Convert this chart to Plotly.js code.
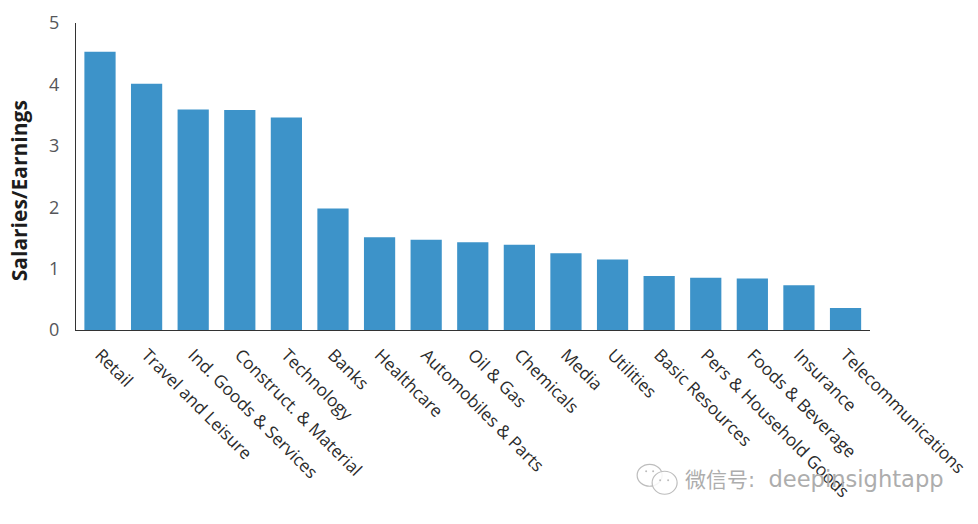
<!DOCTYPE html>
<html>
<head>
<meta charset="utf-8">
<script src="https://cdn.plot.ly/plotly-3.0.1.min.js"></script>
<style>
  html, body { margin: 0; padding: 0; background: #fff; }
  #chart { width: 978px; height: 524px; }
</style>
</head>
<body>
<div id="chart"></div>
<script>
const sectors = [
  'Retail', 'Travel and Leisure', 'Ind. Goods & Services', 'Construct. & Material',
  'Technology', 'Banks', 'Healthcare', 'Automobiles & Parts', 'Oil & Gas', 'Chemicals',
  'Media', 'Utilities', 'Basic Resources', 'Pers & Household Goods', 'Foods & Beverage',
  'Insurance', 'Telecommunications'
];
const ratios = [4.53, 4.01, 3.59, 3.585, 3.46, 1.98, 1.51, 1.47, 1.43, 1.39, 1.25, 1.15, 0.88, 0.85, 0.84, 0.73, 0.36];
const yTicks = [0, 1, 2, 3, 4, 5];
const yLabel = '<b>Salaries/Earnings</b>';
const watermarkCn = '微信号:';
const watermarkEn = 'deepinsightapp';

const W = 978, H = 524;
const M = { l: 75.5, r: 108, t: 23, b: 193.5 };

// paper coords run over the plot area, so convert from picture pixels
const px = x => (x - M.l) / (W - M.l - M.r);
const py = y => (H - M.b - y) / (H - M.t - M.b);

const trace = {
  type: 'bar',
  x: sectors,
  y: ratios,
  marker: { color: '#3d93c9', line: { width: 0 } },
  hoverinfo: 'x+y'
};

// wechat logo next to the watermark: two outlined bubbles and their eyes
const bubble = (x0, y0, x1, y1, fill) => ({
  type: 'circle', xref: 'paper', yref: 'paper',
  x0: px(x0), x1: px(x1), y0: py(y1), y1: py(y0),
  line: { color: '#bdbdbd', width: 1.2 }, fillcolor: fill
});
const eye = (x, y) => ({
  type: 'circle', xref: 'paper', yref: 'paper',
  x0: px(x - 1), x1: px(x + 1), y0: py(y + 1), y1: py(y - 1),
  line: { width: 0 }, fillcolor: '#bdbdbd'
});

const layout = {
  width: W,
  height: H,
  paper_bgcolor: '#ffffff',
  plot_bgcolor: '#ffffff',
  margin: M,
  bargap: 0.33,
  showlegend: false,
  font: { family: '"Open Sans", sans-serif', color: '#333333' },
  xaxis: {
    type: 'category',
    range: [-0.515, 16.525],
    tickangle: 45,
    ticks: '',
    showgrid: false,
    zeroline: false,
    showline: true,
    linecolor: '#333333',
    linewidth: 1.2,
    automargin: false,
    ticklabelstandoff: 7,
    tickfont: { family: '"Open Sans", sans-serif', size: 17.3, color: '#2b2b2b' }
  },
  yaxis: {
    range: [0, 5],
    tickmode: 'array',
    tickvals: yTicks,
    ticktext: yTicks.map(String),
    ticks: '',
    showgrid: false,
    zeroline: false,
    showline: true,
    linecolor: '#333333',
    linewidth: 1.2,
    automargin: false,
    ticklabelstandoff: 12,
    tickfont: { family: '"Open Sans", sans-serif', size: 18, color: '#55565a' }
  },
  shapes: [
    bubble(637, 465, 662, 487, 'rgba(255,255,255,0)'),
    bubble(652, 472, 677, 495, 'rgba(255,255,255,0.85)'),
    eye(646, 472), eye(653, 472), eye(660, 481), eye(668, 481)
  ],
  annotations: [{
    xref: 'paper', yref: 'paper',
    x: px(18), y: py(191),
    xanchor: 'center', yanchor: 'middle',
    textangle: -90,
    showarrow: false,
    text: yLabel,
    font: { family: '"Open Sans", sans-serif', size: 21, color: '#1c1c1c' }
  }, {
    xref: 'paper', yref: 'paper',
    x: px(683), y: py(480),
    xanchor: 'left', yanchor: 'middle',
    showarrow: false,
    text: watermarkCn + '&nbsp; <span style="font-size:22.6px">' + watermarkEn + '</span>',
    font: { family: '"DejaVu Sans", "Noto Sans CJK SC", sans-serif', size: 21, color: '#adadad' }
  }]
};

Plotly.newPlot('chart', [trace], layout, { displayModeBar: false, responsive: false });
</script>
</body>
</html>
